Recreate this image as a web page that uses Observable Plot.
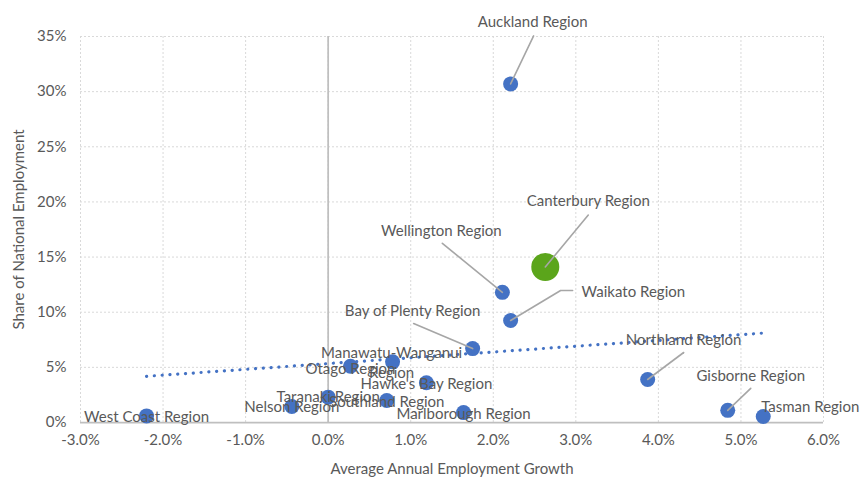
<!DOCTYPE html>
<html>
<head>
<meta charset="utf-8">
<script src="https://cdn.jsdelivr.net/npm/d3@7"></script>
<script src="https://cdn.jsdelivr.net/npm/@observablehq/plot@0.6"></script>
<style>
  html, body { margin: 0; padding: 0; background: #ffffff; }
  #chart svg { display: block; }
</style>
</head>
<body>
<div id="chart"></div>
<script>
// ---- data ----
const regions = [
  "Auckland Region", "Canterbury Region", "Wellington Region", "Waikato Region",
  "Bay of Plenty Region", "Manawatu-Wanganui Region", "Otago Region", "Hawke's Bay Region",
  "Southland Region", "Taranaki Region", "Nelson Region", "West Coast Region",
  "Marlborough Region", "Northland Region", "Gisborne Region", "Tasman Region"
];
// Average annual employment growth (%)
const growth = [2.21, 2.63, 2.11, 2.21, 1.75, 0.78, 0.27, 1.19, 0.71, 0.00, -0.44, -2.20, 1.64, 3.87, 4.84, 5.27];
// Share of national employment (%)
const share  = [30.7, 14.1, 11.8, 9.25, 6.7, 5.5, 5.1, 3.6, 2.0, 2.3, 1.45, 0.6, 0.9, 3.9, 1.1, 0.55];
const highlighted = "Canterbury Region";

const xTicks = [-3, -2, -1, 0, 1, 2, 3, 4, 5, 6];
const yTicks = [0, 5, 10, 15, 20, 25, 30, 35];

// ---- layout / style ----
const W = 863, H = 480;
const M = {top: 36, right: 40, bottom: 58, left: 80};
const xDomain = [-3, 6], yDomain = [0, 35];
const kx = (W - M.left - M.right) / (xDomain[1] - xDomain[0]);
const ky = (H - M.top - M.bottom) / (yDomain[1] - yDomain[0]);

const BLUE = "#4472C4", GREEN = "#5BA51B", TEXT = "#595959", FONT = "Lato, 'Open Sans', sans-serif";

// label placement in pixel offsets from each bubble; leader = polyline points
const labelLayout = {
  "Auckland Region":          {dx: 22,  dy: -63, anchor: "middle", leader: [[23, -48]]},
  "Canterbury Region":        {dx: 43,  dy: -67, anchor: "middle", leader: [[43, -52]]},
  "Wellington Region":        {dx: -61, dy: -63, anchor: "middle", leader: [[-60, -49]]},
  "Waikato Region":           {dx: 71,  dy: -30, anchor: "start",  leader: [[50, -30], [62, -30]]},
  "Bay of Plenty Region":     {dx: -60, dy: -39, anchor: "middle", leader: [[-59, -25]]},
  "Manawatu-Wanganui Region": {dx: -1,  dy: 0,   anchor: "middle", text: "Manawatu-Wanganui\nRegion"},
  "Otago Region":             {dx: 0,   dy: 1,   anchor: "middle"},
  "Hawke's Bay Region":       {dx: 0,   dy: 0,   anchor: "middle"},
  "Southland Region":         {dx: 0,   dy: 0,   anchor: "middle"},
  "Taranaki Region":          {dx: 0,   dy: -1,  anchor: "middle"},
  "Nelson Region":            {dx: 0,   dy: -1,  anchor: "middle"},
  "West Coast Region":        {dx: 0,   dy: 0,   anchor: "middle"},
  "Marlborough Region":       {dx: 0,   dy: 0,   anchor: "middle"},
  "Northland Region":         {dx: 36,  dy: -41, anchor: "middle", leader: [[36, -27]]},
  "Gisborne Region":          {dx: 23,  dy: -36, anchor: "middle", leader: [[23, -22]]},
  "Tasman Region":            {dx: 47,  dy: -11, anchor: "middle"}
};

const data = regions.map((name, i) => ({name, x: growth[i], y: share[i]}));
const px2x = (x, dx) => x + dx / kx;
const px2y = (y, dy) => y - dy / ky;

const labels = data.map(d => {
  const L = labelLayout[d.name];
  return {name: d.name, text: L.text || d.name, anchor: L.anchor,
          x: px2x(d.x, L.dx), y: px2y(d.y, L.dy)};
});
const leaders = [];
data.forEach(d => {
  const L = labelLayout[d.name];
  if (!L.leader) return;
  leaders.push({name: d.name, x: d.x, y: d.y});
  L.leader.forEach(([dx, dy]) => leaders.push({name: d.name, x: px2x(d.x, dx), y: px2y(d.y, dy)}));
});

const fmtX = v => (v < 0 ? "-" : "") + Math.abs(v).toFixed(1) + "%";
const fmtY = v => v + "%";

const plot = Plot.plot({
  width: W, height: H,
  marginTop: M.top, marginRight: M.right, marginBottom: M.bottom, marginLeft: M.left,
  style: {fontFamily: FONT, fontSize: "15px", color: TEXT, background: "#ffffff", overflow: "visible"},
  x: {domain: xDomain, ticks: xTicks, tickFormat: fmtX, tickSize: 0, tickPadding: 12,
      label: "Average Annual Employment Growth", labelAnchor: "center", labelOffset: 51, labelArrow: "none"},
  y: {domain: yDomain, ticks: yTicks, tickFormat: fmtY, tickSize: 0, tickPadding: 14,
      label: "Share of National Employment", labelAnchor: "center", labelOffset: 67, labelArrow: "none"},
  r: {type: "identity"},
  marks: [
    Plot.ruleX(xTicks, {stroke: "#d9d9d9", strokeWidth: 1, strokeDasharray: "2 2"}),
    Plot.ruleY(yTicks, {stroke: "#d9d9d9", strokeWidth: 1, strokeDasharray: "2 2"}),
    Plot.ruleX([0], {y1: yDomain[0], y2: yDomain[1], stroke: "#bfbfbf", strokeWidth: 1.75}),
    Plot.ruleY([0], {stroke: "#bfbfbf", strokeWidth: 1.75}),
    Plot.dot(data, {x: "x", y: "y", r: d => d.name === highlighted ? 14 : 7.5,
      fill: d => d.name === highlighted ? GREEN : BLUE, stroke: "none"}),
    Plot.linearRegressionY(data, {x: "x", y: "y", ci: 0, stroke: BLUE, strokeWidth: 3.2,
      strokeDasharray: "0.1 7.7", strokeLinecap: "round"}),
    Plot.line(leaders, {x: "x", y: "y", z: "name", stroke: "#a6a6a6", strokeWidth: 1.6, curve: "linear"}),
    Plot.text(labels.filter(l => l.anchor === "middle"), {x: "x", y: "y", text: "text",
      fill: TEXT, textAnchor: "middle", lineHeight: 1.3, fontSize: 15}),
    Plot.text(labels.filter(l => l.anchor === "start"), {x: "x", y: "y", text: "text",
      fill: TEXT, textAnchor: "start", lineHeight: 1.3, fontSize: 15})
  ]
});
document.getElementById("chart").appendChild(plot);
</script>
</body>
</html>
